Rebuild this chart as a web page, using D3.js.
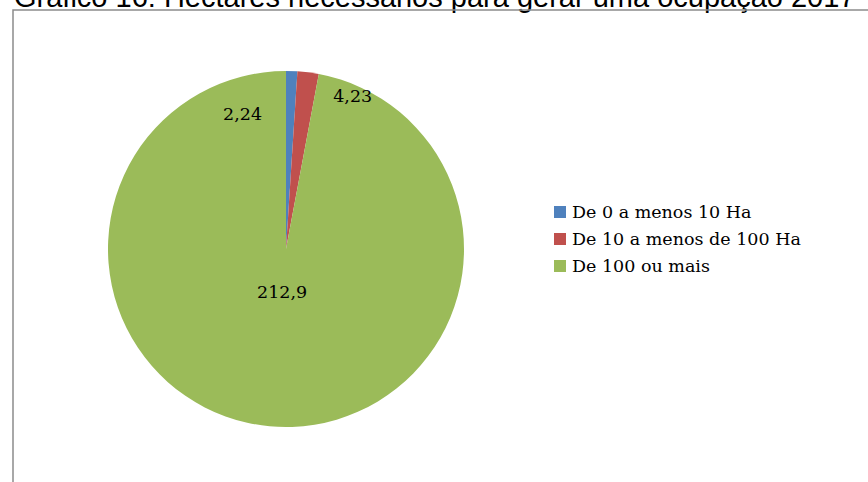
<!DOCTYPE html>
<html>
<head>
<meta charset="utf-8">
<script src="https://cdn.jsdelivr.net/npm/d3@7"></script>
<style>
  body { margin: 0; background: #fff; }
  svg { display: block; }
</style>
</head>
<body>
<script>
// data
const categories = ["De 0 a menos 10 Ha", "De 10 a menos de 100 Ha", "De 100 ou mais"];
const values = [2.24, 4.23, 212.9];
const valueLabels = ["2,24", "4,23", "212,9"];
const colors = ["#4F81BD", "#C0504D", "#9BBB59"];
const title = "Gráfico 16: Hectares necessários para gerar uma ocupação 2017";

const width = 868, height = 482;
const cx = 286, cy = 249, radius = 178;

const svg = d3.select("body")
  .append("svg")
    .attr("width", width)
    .attr("height", height);

// title, cut off by the top edge like in the scan
svg.append("text")
  .attr("x", 14)
  .attr("y", 7)
  .attr("font-family", "Liberation Sans, Arial, sans-serif")
  .attr("font-size", 29)
  .attr("fill", "#000")
  .text(title);

// chart frame (only top and left edges visible)
svg.append("path")
  .attr("d", `M13,${height} L13,10 L${width},10`)
  .attr("fill", "none")
  .attr("stroke", "#8c8c8c")
  .attr("stroke-width", 1.5);

const pie = d3.pie().sort(null).value(d => d);
const arcs = pie(values);

const arc = d3.arc().innerRadius(0).outerRadius(radius);

const g = svg.append("g")
  .attr("transform", `translate(${cx}, ${cy})`);

g.selectAll(".slice")
  .data(arcs)
  .enter()
  .append("path")
    .attr("class", "slice")
    .attr("d", arc)
    .attr("fill", (d, i) => colors[i]);

// label placement: Excel pushes the small slice labels aside
const labelAdjust = [
  {angle: -0.31, r: 0.80},
  {angle: 0.41, r: 0.94},
  {angle: 0, r: 0.24}
];
function labelPos(d, i) {
  const a = i < 2 ? labelAdjust[i].angle : (d.startAngle + d.endAngle) / 2;
  const r = radius * labelAdjust[i].r;
  return [Math.sin(a) * r, -Math.cos(a) * r];
}

g.selectAll(".lbl")
  .data(arcs)
  .enter()
  .append("text")
    .attr("class", "lbl")
    .attr("x", (d, i) => labelPos(d, i)[0])
    .attr("y", (d, i) => labelPos(d, i)[1])
    .attr("dy", "0.35em")
    .attr("text-anchor", "middle")
    .attr("font-family", "DejaVu Serif, Liberation Serif, serif")
    .attr("font-size", 17.5)
    .attr("fill", "#000")
    .text((d, i) => valueLabels[i]);

// legend
const legend = svg.append("g")
  .attr("transform", "translate(554, 212)");

const rows = legend.selectAll(".row")
  .data(categories)
  .enter()
  .append("g")
    .attr("class", "row")
    .attr("transform", (d, i) => `translate(0, ${i * 27})`);

rows.append("rect")
  .attr("x", 0)
  .attr("y", -6)
  .attr("width", 12)
  .attr("height", 12)
  .attr("fill", (d, i) => colors[i]);

rows.append("text")
  .attr("x", 18)
  .attr("y", 0)
  .attr("dy", "0.35em")
  .attr("font-family", "DejaVu Serif, Liberation Serif, serif")
  .attr("font-size", 17.5)
  .attr("fill", "#000")
  .text(d => d);
</script>
</body>
</html>
